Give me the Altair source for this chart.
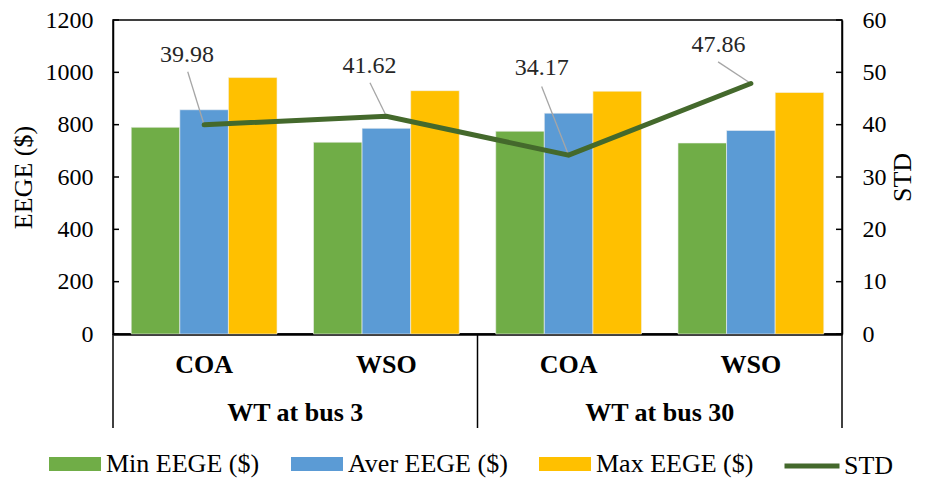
import altair as alt
import pandas as pd

# ---------------- data ----------------
CATS = ["bus3-COA", "bus3-WSO", "bus30-COA", "bus30-WSO"]
METHODS = ["COA", "WSO", "COA", "WSO"]
GROUP_LABELS = ["WT at bus 3", "WT at bus 30"]
SERIES = ["Min EEGE ($)", "Aver EEGE ($)", "Max EEGE ($)"]
MIN_EEGE = [790, 733, 775, 730]
AVER_EEGE = [857, 786, 844, 778]
MAX_EEGE = [980, 930, 928, 923]
STD = [39.98, 41.62, 34.17, 47.86]
LEFT_TICKS = [0, 200, 400, 600, 800, 1000, 1200]
RIGHT_TICKS = [0, 10, 20, 30, 40, 50, 60]

# label anchor positions (x in category units, y in STD units)
LABEL_X = [0.406, 1.407, 2.352, 3.322]
LABEL_Y = [53.4, 51.3, 50.8, 55.2]
LEADER_X = [0.41, 1.41, 2.352, 3.32]
LEADER_Y = [50.1, 48.0, 47.3, 52.0]

COLORS = ["#70ad47", "#5b9bd5", "#ffc000"]
DARK = "#44692c"
FONT = "Liberation Serif"
W, H = 729, 314

# ---------------- tables ----------------
rows = []
for i, c in enumerate(CATS):
    for s, vals in zip(SERIES, [MIN_EEGE, AVER_EEGE, MAX_EEGE]):
        rows.append({"cat": c, "series": s, "value": vals[i]})
bars_df = pd.DataFrame(rows)

std_df = pd.DataFrame({
    "pos": [i + 0.5 for i in range(len(CATS))],
    "std": STD,
    "name": ["STD"] * len(STD),
    "label": [f"{v:.2f}" for v in STD],
    "tx": LABEL_X, "ty": LABEL_Y,
    "lx": LEADER_X, "ly": LEADER_Y,
})
cat_df = pd.DataFrame({"pos": [i + 0.5 for i in range(len(CATS))], "method": METHODS})
grp_df = pd.DataFrame({"pos": [1.0, 3.0], "label": GROUP_LABELS})
div_df = pd.DataFrame({"pos": [0.0, 2.0, 4.0]})
lt_df = pd.DataFrame({"value": LEFT_TICKS})
rt_df = pd.DataFrame({"std": RIGHT_TICKS})

# ---------------- group A: bars, left axis ----------------
xband = alt.X("cat:N", sort=CATS,
              scale=alt.Scale(domain=CATS, paddingInner=0.2, paddingOuter=0.1),
              axis=alt.Axis(labels=False, ticks=False, title=None,
                            domainColor="black", domainWidth=2.5))
yleft_axis = alt.Axis(values=LEFT_TICKS, format="d", title="EEGE ($)", ticks=False,
                      grid=False, labelPadding=20, labelFont=FONT, labelFontSize=24,
                      labelColor="black", titleFont=FONT, titleFontSize=26,
                      titleFontWeight="normal", titleColor="black",
                      titleX=-90, titleY=H / 2, titleAngle=270, titleAlign="center",
                      titleBaseline="middle",
                      domainColor="black", domainWidth=1.5)
yleft_scale = alt.Scale(domain=[0, 1200], nice=False)

bars = alt.Chart(bars_df).mark_bar(stroke="#f2f2f2", strokeWidth=0.6).encode(
    x=xband,
    xOffset=alt.XOffset("series:N", sort=SERIES,
                        scale=alt.Scale(domain=SERIES, paddingInner=0, paddingOuter=0)),
    y=alt.Y("value:Q", scale=yleft_scale, axis=yleft_axis),
    color=alt.Color("series:N", sort=SERIES,
                    scale=alt.Scale(domain=SERIES, range=COLORS),
                    legend=alt.Legend(
                        orient="none", direction="horizontal", legendX=-64, legendY=418,
                        title=None, padding=0,
                        symbolType="M-1,-0.27L1,-0.27L1,0.27L-1,0.27Z",
                        symbolSize=2704, symbolStrokeWidth=0, symbolOpacity=1,
                        labelFont=FONT, labelFontSize=26, labelColor="black",
                        labelOffset=5, columnPadding=31, labelLimit=400)),
)
left_ticks = alt.Chart(lt_df).mark_rule(color="black", strokeWidth=1.5).encode(
    y=alt.Y("value:Q", scale=yleft_scale, axis=yleft_axis),
    x=alt.value(0), x2=alt.value(6),
)
groupA = alt.layer(bars, left_ticks)

# ---------------- group B: STD line & annotations ----------------
xq_scale = alt.Scale(domain=[0, 4], nice=False, zero=False)
xq = alt.X("pos:Q", scale=xq_scale, axis=None)
yright_scale = alt.Scale(domain=[0, 60], nice=False)
yright_axis = alt.Axis(orient="right", values=RIGHT_TICKS, format="d", title="STD",
                       ticks=False, grid=False, labelPadding=20, labelFont=FONT,
                       labelFontSize=24, labelColor="black", titleFont=FONT,
                       titleFontSize=26, titleFontWeight="normal", titleColor="black",
                       titleX=60, titleY=H / 2, titleAngle=270, titleAlign="center",
                       titleBaseline="middle",
                       domainColor="black", domainWidth=1.5)

leaders = alt.Chart(std_df).mark_rule(color="#a6a6a6", strokeWidth=1.3).encode(
    x=alt.X("lx:Q", scale=xq_scale, axis=None),
    y=alt.Y("ly:Q", scale=yright_scale, axis=yright_axis),
    x2="pos:Q", y2="std:Q",
)
line = alt.Chart(std_df).mark_line(strokeWidth=5, strokeCap="round").encode(
    x=xq,
    y=alt.Y("std:Q", scale=yright_scale, axis=yright_axis),
    color=alt.Color("name:N", scale=alt.Scale(domain=["STD"], range=[DARK]),
                    legend=alt.Legend(
                        orient="none", direction="horizontal", legendX=669, legendY=416,
                        title=None, padding=0, symbolType="stroke",
                        symbolSize=3025, symbolStrokeWidth=5,
                        labelFont=FONT, labelFontSize=26, labelColor="black",
                        labelOffset=2)),
)
labels = alt.Chart(std_df).mark_text(font=FONT, fontSize=24, color="#262626",
                                     baseline="middle", align="center").encode(
    x=alt.X("tx:Q", scale=xq_scale, axis=None),
    y=alt.Y("ty:Q", scale=yright_scale, axis=yright_axis),
    text="label:N",
)
right_ticks = alt.Chart(rt_df).mark_rule(color="black", strokeWidth=1.5).encode(
    y=alt.Y("std:Q", scale=yright_scale, axis=yright_axis),
    x=alt.value(W - 6), x2=alt.value(W),
)
cat_text = alt.Chart(cat_df).mark_text(font=FONT, fontSize=26, fontWeight="bold",
                                       color="black", baseline="middle").encode(
    x=xq, y=alt.value(H + 31), text="method:N",
)
grp_text = alt.Chart(grp_df).mark_text(font=FONT, fontSize=26, fontWeight="bold",
                                       color="black", baseline="middle").encode(
    x=xq, y=alt.value(H + 79), text="label:N",
)
dividers = alt.Chart(div_df).mark_rule(color="black", strokeWidth=1.5).encode(
    x=xq, y=alt.value(H), y2=alt.value(H + 94),
)
groupB = alt.layer(leaders, line, labels, right_ticks, cat_text, grp_text, dividers)

chart = alt.layer(groupA, groupB).resolve_scale(
    x="independent", y="independent", color="independent"
).properties(
    width=W, height=H,
    padding={"left": 105, "top": 12, "right": 75, "bottom": 146},
    autosize=alt.AutoSizeParams(type="none"),
).configure(font=FONT).configure_view(
    stroke="black", strokeWidth=1.5
).configure_axis(
    labelFont=FONT, labelFontSize=24, labelColor="black",
    titleFont=FONT, titleFontSize=26, titleFontWeight="normal", titleColor="black",
)

chart.save("out.html", embed_options={"renderer": "svg", "actions": False})
